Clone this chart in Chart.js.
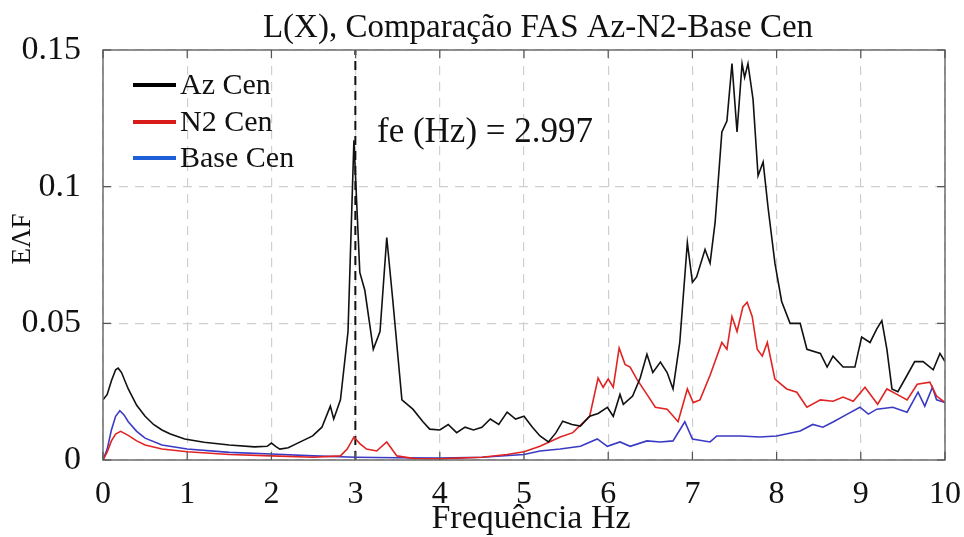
<!DOCTYPE html>
<html>
<head>
<meta charset="utf-8">
<title>L(X), Comparação FAS Az-N2-Base Cen</title>
<script src="https://cdn.jsdelivr.net/npm/chart.js@4"></script>
<style>
  html, body { margin: 0; padding: 0; background: #fff; }
  #wrap { width: 964px; height: 537px; position: relative; }
</style>
</head>
<body>
<div id="wrap"><canvas id="fasChart" width="964" height="537"></canvas></div>
<script>
// Frequency axis ticks and amplitude ticks
const xTicks = [0, 1, 2, 3, 4, 5, 6, 7, 8, 9, 10];
const yTicks = [0, 0.05, 0.1, 0.15];

// Identified frequency (Hz)
const feHz = 2.997;

// Az Cen
const azFreq = [0, 0.05, 0.1, 0.15, 0.18, 0.22, 0.3, 0.4, 0.5, 0.6, 0.7, 0.8, 0.97, 1.2, 1.5, 1.8, 1.95, 2.0, 2.05, 2.1,
  2.2, 2.3, 2.49, 2.6, 2.7, 2.74, 2.82, 2.91, 2.98, 3.05, 3.11, 3.21, 3.29, 3.37, 3.44, 3.55, 3.68, 3.8, 3.88,
  4.0, 4.1, 4.2, 4.3, 4.4, 4.5, 4.6, 4.7, 4.8, 4.9, 5.0, 5.1, 5.19, 5.29, 5.38, 5.46, 5.57, 5.67, 5.78, 5.88,
  5.99, 6.06, 6.14, 6.18, 6.29, 6.38, 6.46, 6.53, 6.62, 6.7, 6.77, 6.85, 6.94, 7.0, 7.05, 7.15, 7.21, 7.27,
  7.35, 7.41, 7.47, 7.53, 7.59, 7.62, 7.66, 7.72, 7.78, 7.84, 7.9, 7.98, 8.06, 8.16, 8.28, 8.36, 8.52, 8.6,
  8.67, 8.79, 8.93, 9.01, 9.11, 9.19, 9.25, 9.31, 9.37, 9.44, 9.55, 9.64, 9.74, 9.86, 9.94, 10.0];
const azVals = [0.022, 0.024, 0.029, 0.033, 0.0336, 0.032, 0.026, 0.020, 0.016, 0.013, 0.011, 0.0095, 0.0077, 0.0065, 0.0055, 0.0048, 0.005, 0.0062, 0.005, 0.004,
  0.0045, 0.006, 0.0088, 0.012, 0.0197, 0.015, 0.022, 0.047, 0.117, 0.0686, 0.062, 0.0405, 0.047, 0.0814, 0.059, 0.022, 0.0186, 0.014, 0.0113,
  0.011, 0.013, 0.010, 0.012, 0.011, 0.012, 0.015, 0.013, 0.0175, 0.015, 0.016, 0.012, 0.0088, 0.0066, 0.010, 0.0142, 0.013, 0.0124, 0.016, 0.017,
  0.0193, 0.016, 0.024, 0.0204, 0.0234, 0.030, 0.0387, 0.032, 0.0358, 0.032, 0.026, 0.043, 0.0795, 0.065, 0.067, 0.077, 0.072, 0.087,
  0.12, 0.124, 0.145, 0.12, 0.145, 0.14, 0.145, 0.132, 0.104, 0.109, 0.092, 0.072, 0.058, 0.050, 0.050, 0.0405, 0.039, 0.034,
  0.038, 0.034, 0.034, 0.045, 0.043, 0.048, 0.051, 0.0405, 0.026, 0.025, 0.031, 0.036, 0.036, 0.033, 0.039, 0.036];

// N2 Cen
const n2Freq = [0, 0.05, 0.1, 0.15, 0.21, 0.3, 0.4, 0.5, 0.7, 1.0, 1.5, 2.0, 2.5, 2.82, 2.9, 2.98, 3.05, 3.13, 3.25, 3.37, 3.49,
  3.7, 4.0, 4.5, 4.8, 5.0, 5.19, 5.43, 5.58, 5.78, 5.88, 5.94, 6.0, 6.06, 6.13, 6.2, 6.26, 6.34, 6.46, 6.56, 6.7, 6.83,
  6.94, 7.01, 7.09, 7.21, 7.35, 7.41, 7.47, 7.53, 7.6, 7.65, 7.71, 7.77, 7.83, 7.89, 7.98, 8.12, 8.24, 8.36, 8.52,
  8.67, 8.79, 8.91, 9.05, 9.2, 9.31, 9.43, 9.55, 9.67, 9.82, 9.9, 10.0];
const n2Vals = [0, 0.003, 0.007, 0.0095, 0.0105, 0.009, 0.007, 0.0055, 0.004, 0.003, 0.002, 0.0015, 0.001, 0.0015, 0.004, 0.0084, 0.006, 0.004, 0.0033, 0.0066, 0.0015,
  0.0005, 0.0004, 0.001, 0.002, 0.003, 0.005, 0.0084, 0.010, 0.016, 0.030, 0.0266, 0.0296, 0.0266, 0.041, 0.035, 0.034, 0.0296, 0.024, 0.0193, 0.0186, 0.014,
  0.026, 0.021, 0.022, 0.031, 0.043, 0.0405, 0.0525, 0.047, 0.056, 0.0577, 0.0525, 0.0405, 0.038, 0.043, 0.0296, 0.026, 0.0248, 0.0193, 0.022,
  0.0215, 0.023, 0.0215, 0.0266, 0.0204, 0.026, 0.024, 0.022, 0.0277, 0.0285, 0.0234, 0.021];

// Base Cen
const baseFreq = [0, 0.05, 0.1, 0.15, 0.2, 0.25, 0.3, 0.4, 0.5, 0.7, 1.0, 1.5, 2.0, 2.5, 3.0, 3.5, 4.0, 4.5, 5.0, 5.19, 5.43,
  5.67, 5.87, 5.99, 6.14, 6.26, 6.46, 6.62, 6.77, 6.91, 7.0, 7.21, 7.29, 7.57, 7.8, 8.0, 8.28, 8.43, 8.55, 8.67, 8.84,
  8.99, 9.09, 9.19, 9.38, 9.55, 9.68, 9.76, 9.85, 9.9, 10.0];
const baseVals = [0, 0.004, 0.011, 0.016, 0.018, 0.0165, 0.014, 0.0105, 0.008, 0.0055, 0.004, 0.0028, 0.0022, 0.0015, 0.001, 0.0008, 0.0007, 0.001, 0.002, 0.0033, 0.004,
  0.005, 0.0077, 0.005, 0.0066, 0.005, 0.007, 0.0066, 0.007, 0.014, 0.0077, 0.0066, 0.0088, 0.0088, 0.0084, 0.0088, 0.0106, 0.013, 0.012, 0.0139, 0.0168,
  0.0193, 0.0168, 0.0186, 0.0193, 0.0175, 0.0248, 0.0197, 0.0266, 0.022, 0.021];

const seriesNames = ['Az Cen', 'N2 Cen', 'Base Cen'];
const seriesColors = ['#111111', '#e02424', '#3a3ac4'];
const legendColors = ['#000000', '#d81c1c', '#1e5ed6'];

const SERIF = '"Liberation Serif", "DejaVu Serif", serif';

const toPoints = (xs, ys) => xs.map((x, i) => ({ x: x, y: ys[i] }));

// Title, axis titles, legend, annotation and inward tick marks
const fasDecor = {
  id: 'fasDecor',
  afterDraw(chart) {
    const ctx = chart.ctx;
    const area = chart.chartArea;
    const xs = chart.scales.x;
    const ys = chart.scales.y;
    ctx.save();

    // frame
    ctx.strokeStyle = '#6e6e6e';
    ctx.lineWidth = 1.5;
    ctx.setLineDash([]);
    ctx.strokeRect(area.left, area.top, area.right - area.left, area.bottom - area.top);

    // inward ticks
    ctx.strokeStyle = '#555';
    ctx.lineWidth = 1.2;
    ctx.beginPath();
    xTicks.forEach(v => {
      const px = xs.getPixelForValue(v);
      ctx.moveTo(px, area.bottom); ctx.lineTo(px, area.bottom - 8);
      ctx.moveTo(px, area.top); ctx.lineTo(px, area.top + 8);
    });
    yTicks.forEach(v => {
      const py = ys.getPixelForValue(v);
      ctx.moveTo(area.left, py); ctx.lineTo(area.left + 8, py);
      ctx.moveTo(area.right, py); ctx.lineTo(area.right - 8, py);
    });
    ctx.stroke();

    ctx.fillStyle = '#111';
    // title
    ctx.font = '33px ' + SERIF;
    ctx.textAlign = 'center';
    ctx.textBaseline = 'middle';
    ctx.fillText('L(X), Comparação FAS Az-N2-Base Cen', 538, 28);

    // x axis title
    ctx.font = '34px ' + SERIF;
    ctx.fillText('Frequência Hz', 531, 519);

    // y axis title
    ctx.save();
    ctx.translate(23, 239);
    ctx.rotate(-Math.PI / 2);
    ctx.font = '27px ' + SERIF;
    ctx.fillText('EΛF', 0, 0);
    ctx.restore();

    // fe annotation
    ctx.font = '35px ' + SERIF;
    ctx.textAlign = 'left';
    ctx.fillText('fe (Hz) = ' + feHz.toFixed(3), 377, 133);

    // legend
    ctx.font = '30px ' + SERIF;
    const rows = [85, 122, 158];
    seriesNames.forEach((name, i) => {
      ctx.strokeStyle = legendColors[i];
      ctx.lineWidth = 4;
      ctx.beginPath();
      ctx.moveTo(133, rows[i]);
      ctx.lineTo(176, rows[i]);
      ctx.stroke();
      ctx.fillStyle = '#111';
      ctx.fillText(name, 180, rows[i] + 1);
    });
    ctx.restore();
  }
};

const fasChart = {
  instance: null,

  init() {
    const ctx = document.getElementById('fasChart');
    const lineStyle = (i) => ({
      borderColor: seriesColors[i],
      backgroundColor: seriesColors[i],
      borderWidth: 1.6,
      pointRadius: 0,
      tension: 0,
      fill: false
    });

    this.instance = new Chart(ctx, {
      type: 'line',
      data: {
        datasets: [
          Object.assign({ label: seriesNames[0], data: toPoints(azFreq, azVals) }, lineStyle(0)),
          Object.assign({ label: seriesNames[1], data: toPoints(n2Freq, n2Vals) }, lineStyle(1)),
          Object.assign({ label: seriesNames[2], data: toPoints(baseFreq, baseVals) }, lineStyle(2)),
          {
            label: 'fe',
            data: [{ x: feHz, y: 0 }, { x: feHz, y: 0.15 }],
            borderColor: '#111',
            borderWidth: 2,
            borderDash: [9, 6],
            pointRadius: 0
          }
        ]
      },
      options: {
        responsive: false,
        animation: false,
        layout: { padding: { left: 0, top: 50, right: 19, bottom: 0 } },
        plugins: {
          legend: { display: false },
          title: { display: false },
          tooltip: { enabled: false }
        },
        scales: {
          x: {
            type: 'linear',
            min: 0,
            max: 10,
            afterBuildTicks: (scale) => { scale.ticks = xTicks.map(v => ({ value: v })); },
            afterFit: (scale) => {
              scale.height = 77;
              scale.paddingLeft = 0;
              scale.paddingRight = 0;
            },
            ticks: {
              color: '#111',
              padding: 15,
              maxRotation: 0,
              font: { family: SERIF, size: 32 },
              callback: (v) => String(v)
            },
            grid: { color: '#cfcfcf', lineWidth: 1.2, drawTicks: false },
            border: { display: false, dash: [9, 7] }
          },
          y: {
            type: 'linear',
            min: 0,
            max: 0.15,
            afterBuildTicks: (scale) => { scale.ticks = yTicks.map(v => ({ value: v })); },
            afterFit: (scale) => { scale.width = 103; },
            ticks: {
              color: '#111',
              padding: 22,
              font: { family: SERIF, size: 34 },
              callback: (v) => String(v)
            },
            grid: { color: '#cfcfcf', lineWidth: 1.2, drawTicks: false },
            border: { display: false, dash: [9, 7] }
          }
        }
      },
      plugins: [fasDecor]
    });
  }
};

fasChart.init();
</script>
</body>
</html>
